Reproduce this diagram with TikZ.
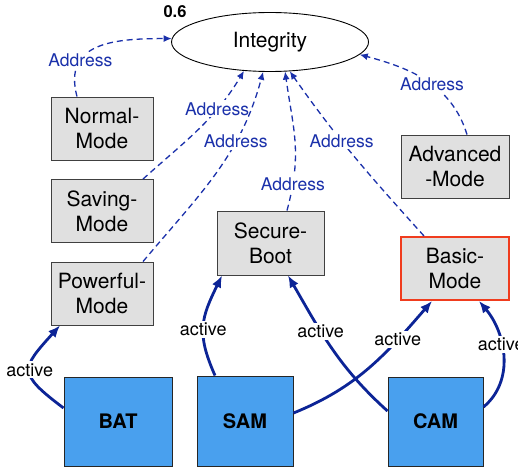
\documentclass[tikz,border=0pt]{standalone}
\usepackage{fontspec}
\setmainfont{TeX Gyre Heros}
\usetikzlibrary{shapes.geometric,arrows.meta}
\definecolor{addrc}{RGB}{26,48,170}
\definecolor{actc}{RGB}{12,36,150}
\definecolor{boxg}{RGB}{224,224,224}
\definecolor{boxb}{RGB}{73,160,238}
\definecolor{redb}{RGB}{240,60,30}
\begin{document}
\begin{tikzpicture}[x=1pt,y=1pt,
  mode/.style={draw=black!75, fill=boxg, line width=0.9pt, minimum width=102pt, minimum height=63pt, align=center, inner sep=0pt, font=\fontsize{21}{25}\selectfont},
  comp/.style={draw=black!85, fill=boxb, line width=1pt, minimum height=89pt, inner sep=0pt, font=\fontsize{20}{24}\selectfont\bfseries},
  addr/.style={draw=addrc, dash pattern=on 6pt off 4pt, line width=1.3pt, -{Latex[length=8pt,width=7pt]}},
  act/.style={draw=actc, line width=2.8pt, -{Latex[length=12pt,width=10pt]}},
  alab/.style={fill=white, text=addrc, inner sep=2pt, font=\fontsize{17.5}{20}\selectfont},
  clab/.style={fill=white, text=black, inner sep=2pt, font=\fontsize{18}{20}\selectfont}]
\useasboundingbox (0,0) rectangle (518,-470);
\node[ellipse, draw=black, line width=0.9pt, fill=white, minimum width=197pt, minimum height=59pt, inner sep=0pt, font=\fontsize{21}{25}\selectfont] (int) at (270,-42) {Integrity};
\node[font=\fontsize{16.5}{20}\selectfont\bfseries] (val) at (175,-12) {0.6};
\node[mode] (nm) at (102,-128.5) {Normal-\\Mode};
\node[mode] (sm) at (102,-211) {Saving-\\Mode};
\node[mode] (pm) at (102,-293.5) {Powerful-\\Mode};
\node[mode, minimum width=107pt, minimum height=64pt] (sb) at (270.5,-243) {Secure-\\Boot};
\node[mode, minimum width=108pt] (am) at (455,-166.5) {Advanced\\-Mode};
\node[mode, minimum width=108pt, draw=redb, line width=2pt] (bm) at (455,-268.5) {Basic-\\Mode};
\node[comp, minimum width=108pt] (bat) at (118,-421.5) {BAT};
\node[comp, minimum width=96pt, minimum height=90pt] (sam) at (245,-421) {SAM};
\node[comp, minimum width=95pt] (cam) at (435.5,-421.5) {CAM};

\draw[addr] ([xshift=-25pt]nm.north) to[out=105,in=180,looseness=1.3] node[alab,pos=0.3]{Address} (int.178);
\draw[addr] ([xshift=41pt]sm.north) to[out=42,in=-121] node[alab,pos=0.7]{Address} (int.-132);
\draw[addr] ([xshift=41pt]pm.north) to[out=50,in=-105] node[alab,pos=0.68]{Address} (int.-103);
\draw[addr] ([xshift=16.5pt]sb.north) to[out=75,in=-82,looseness=1.1] node[alab,pos=0.17]{Address} (int.-63);
\draw[addr] ([xshift=-31pt]bm.north) to[out=132,in=-55] node[alab,pos=0.6]{Address} (int.-56);
\draw[addr] ([xshift=12pt]am.north) to[out=107,in=-15] node[alab,pos=0.45]{Address} (int.-8);

\draw[act] ([yshift=13.5pt]bat.west) to[out=143,in=-132,looseness=1.8] node[clab]{active} ([xshift=-42pt]pm.south);
\draw[act] ([xshift=-30pt]sam.north) to[out=114,in=-116,looseness=1.2] node[clab,pos=0.45]{active} ([xshift=-48.5pt]sb.south);
\draw[act] ([yshift=10.5pt]cam.west) to[out=138,in=-60] node[clab,pos=0.63]{active} ([xshift=17.5pt]sb.south);
\draw[act] ([yshift=8pt]sam.east) to[out=22,in=-131] node[clab,pos=0.73]{active} ([xshift=-23pt]bm.south);
\draw[act] ([yshift=14.5pt]cam.east) to[out=40,in=-50] node[clab,pos=0.6]{active} ([xshift=24pt]bm.south);
\end{tikzpicture}
\end{document}
